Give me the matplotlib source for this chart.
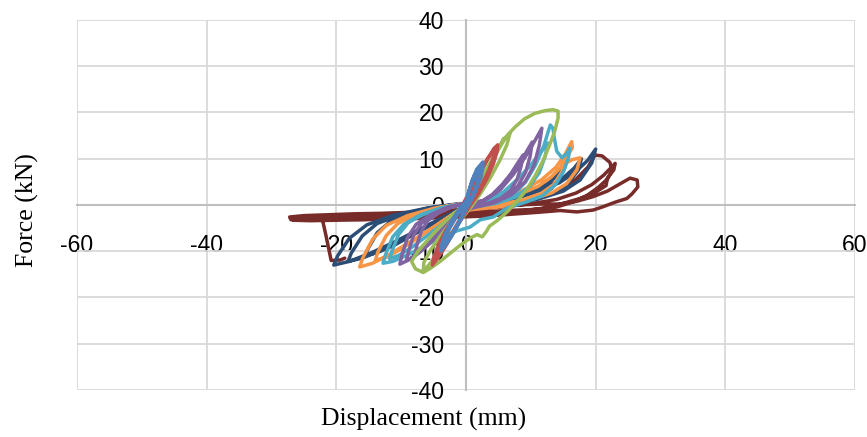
import matplotlib
matplotlib.use("Agg")
import matplotlib.pyplot as plt
from matplotlib import font_manager as fm
import numpy as np

# hysteresis loops, (displacement mm, force kN)
blue_pts = [(0, 0), (0.3, 2.2), (0.8, 4.4), (1.4, 6.2), (2.0, 7.4), (2.0, 6.6), (1.7, 4.8), (1.2, 2.6),
            (0.6, 0.6), (0, -0.8), (-0.7, -2.8), (-1.5, -4.8), (-2.4, -6.8), (-3.2, -8.4), (-3.1, -7.2),
            (-2.6, -5.0), (-1.8, -2.8), (-0.8, -0.6), (0, 0.6),
            (0.4, 2.6), (0.9, 5.2), (1.7, 7.8), (2.6, 9.3), (2.6, 8.2), (2.3, 6.0), (1.6, 3.4), (0.8, 1.0),
            (0, -0.8), (-0.8, -3.2), (-1.8, -5.8), (-2.9, -8.2), (-3.9, -10), (-3.8, -8.8), (-3.2, -6.2),
            (-2.2, -3.4), (-1, -0.8), (0, 0.8),
            (0.4, 2.8), (1, 5.4), (1.7, 7.6), (2.4, 8.6), (2.3, 7.4), (1.9, 5.2), (1.2, 2.6), (0.4, 0.4),
            (-0.5, -2), (-1.5, -4.8), (-2.6, -7.4), (-3.6, -9.4), (-3.4, -7.8), (-2.6, -5.2), (-1.5, -2.6),
            (-0.4, -0.2)]

red_pts = [(0, 0), (0.8, 2.8), (2, 6.4), (3.3, 9.8), (4.3, 12.2), (4.9, 13), (4.8, 11.6), (4.2, 8.8),
           (3.2, 5.6), (1.9, 2.4), (0.6, -0.2), (-0.6, -2.8), (-1.8, -5.6), (-3, -8.6), (-4.2, -11.2),
           (-5.2, -13), (-5, -11.4), (-4.2, -8.4), (-3, -5.2), (-1.7, -2.4), (-0.4, 0.4), (0.8, 3.4), (2, 6.8),
           (3.3, 10), (4.5, 12.2), (4.3, 10.6), (3.6, 7.8), (2.6, 4.8), (1.4, 2), (0.2, -0.4), (-1, -3.2),
           (-2.3, -6.4), (-3.6, -9.6), (-4.7, -12), (-4.5, -10.4), (-3.6, -7.4), (-2.4, -4.4), (-1.1, -1.6),
           (0, 0.4)]

green_pts = [(0, 0), (1.5, 3.6), (3, 7.4), (4.4, 10.8), (5.7, 13.8), (6.8, 15.6), (6.3, 13), (5.2, 9.6),
             (3.8, 6), (2.3, 2.6), (0.8, -0.4), (-0.8, -3.2), (-2.4, -6.4), (-4, -9.6), (-5.4, -12.4),
             (-6.6, -14.4), (-6.5, -12.4), (-5.4, -9.6), (-3.9, -6.6), (-2.3, -3.6), (-0.8, -1), (0.6, 1.6),
             (2.1, 5), (3.6, 8.6), (5, 12), (6.2, 14.8), (7.6, 16.9), (9, 18.6), (10.6, 19.8), (12.2, 20.4),
             (13.4, 20.6), (14.2, 20.3), (14.2, 18.8), (13.7, 16), (12.9, 13), (11.9, 9.6), (10.7, 6.4),
             (9.4, 3.4), (8, 1), (6.4, -1.4), (4.8, -3.4), (3.6, -4.6), (3.2, -5.6), (2.5, -6.9), (1.7, -6.4),
             (0.6, -7.2), (-0.8, -8.6), (-2.4, -10.4), (-4, -12.2), (-5.4, -13.6), (-6.6, -14.6), (-7.8, -13.8),
             (-8.4, -12.2), (-7.4, -10), (-5.8, -7.4), (-4, -4.6), (-2.2, -2.2), (-0.6, -0.4), (1, 2),
             (2.4, 5.4), (3.8, 9), (5, 12.2), (5.8, 14.4)]

purple_pts = [(0, 0), (2.2, 0.6), (4, 2.2), (5.5, 4.3), (6.9, 6.7), (7.9, 8.9), (8.8, 10.8), (8.5, 8.4),
              (7.9, 5.6), (6.9, 3.2), (5.3, 1.4), (3.3, 0.3), (1.1, -0.3), (-0.8, -1.2), (-2.7, -4.2),
              (-4.3, -6.4), (-5.6, -8.3), (-6.9, -9.8), (-7.8, -10.4), (-7.6, -8.8), (-6.9, -5.7), (-5.9, -3.4),
              (-4.3, -1.8), (-2.3, -0.5), (-0.4, 0.2),
              (2.6, 0.8), (4.6, 2.7), (6.3, 5.4), (8, 8.4), (9.2, 11.2), (10.2, 13.6), (9.9, 10.6), (9.2, 7.1),
              (8, 4.1), (6.1, 1.8), (3.9, 0.4), (1.2, -0.4), (-0.9, -1.4), (-3.2, -4.8), (-5.1, -7.4),
              (-6.6, -9.6), (-8.1, -11.3), (-9.2, -12), (-8.9, -10.2), (-8.1, -6.6), (-6.9, -4), (-5.1, -2),
              (-2.8, -0.6), (-0.5, 0.2),
              (2.9, 1), (5.3, 3.3), (7.3, 6.6), (9.1, 10.3), (10.5, 13.6), (11.7, 16.6), (11.3, 12.9),
              (10.5, 8.6), (9.1, 5), (7, 2.2), (4.4, 0.5), (1.4, -0.5), (-1, -1.5), (-3.6, -5.1), (-5.6, -7.9),
              (-7.3, -10.2), (-9, -12), (-10.2, -12.8), (-9.9, -10.9), (-9, -7), (-7.7, -4.2), (-5.6, -2.2),
              (-3.1, -0.6), (-0.5, 0.3)]

cyan_pts = [(0, 0), (3.2, 0.8), (5.7, 2.7), (7.8, 5.4), (9.8, 8.3), (11.3, 11), (12.6, 13.4), (12.2, 10.5),
            (11.3, 7), (9.8, 4), (7.6, 1.7), (4.8, 0.4), (1.5, -0.4), (-1.2, -1.4), (-4.1, -4.6), (-6.5, -7.2),
            (-8.5, -9.3), (-10.4, -10.9), (-11.8, -11.6), (-11.4, -9.9), (-10.4, -6.4), (-8.9, -3.8),
            (-6.5, -2), (-3.5, -0.6), (-0.6, 0.2),
            (2.4, 0.6), (4.8, 1.8), (5.6, 2.6), (6.3, 1.6), (7.6, 2.6), (9.2, 5), (10.7, 8.6), (12, 12.8),
            (13, 17.3), (13.4, 16.6), (13.6, 14.6), (14, 11.6), (14.8, 10.2), (15.6, 11.2), (16, 12.3),
            (15.8, 10.2), (15.1, 7.4), (13.8, 4.4), (11.8, 2), (9.2, 0.6), (6.4, -0.6), (4.2, -2.6),
            (2.2, -3.2), (0.6, -4.8), (-1.4, -5.6), (-3.8, -7), (-6.6, -9), (-9, -10.8), (-11.3, -12.2),
            (-12.8, -12.6), (-12.4, -10.7), (-11.3, -6.9), (-9.6, -4.2), (-7, -2.1), (-3.8, -0.6), (-0.6, 0.3)]

orange_pts = [(0, 0), (3.9, 0.6), (7.7, 2), (11.1, 4), (13.1, 6), (14.5, 8), (15.4, 10), (14.9, 7.5),
              (13.6, 4.5), (11.6, 2.5), (8.5, 1), (4.6, 0), (0.8, -0.4), (-1.4, -1.4), (-4.9, -4.8),
              (-7.7, -7.4), (-10.1, -9.6), (-12.3, -11.3), (-14, -12), (-13.6, -10.2), (-12.3, -6.6),
              (-10.5, -4), (-7.7, -2), (-4.2, -0.6), (-0.7, 0.2),
              (4.1, 0.8), (8.2, 2.7), (11.7, 5.5), (13.9, 8.2), (15.3, 11), (16.3, 13.7), (16.4, 12.4),
              (15.6, 10.4), (15, 8.8), (16.4, 9.8), (17.6, 10.2), (17.1, 7.6), (15.5, 4.6), (13.2, 2.6),
              (9.7, 1), (5.3, -0.4), (0.9, -1), (-1.6, -1.6), (-5.7, -5.4), (-9, -8.3), (-11.8, -10.7),
              (-14.4, -12.6), (-16.4, -13.4), (-15.9, -11.4), (-14.4, -7.4), (-12.3, -4.4), (-9, -2.3),
              (-4.9, -0.7), (-0.8, 0.3)]

navy_pts = [(0, 0), (3.8, 0.5), (7.5, 1.6), (10.8, 3.2), (12.8, 4.8), (14.1, 6.4), (15, 8), (14.6, 6),
            (13.2, 3.6), (11.3, 2), (8.3, 0.8), (4.5, 0), (0.8, -0.3), (-1.6, -1.3), (-5.5, -4.4), (-8.6, -6.8),
            (-11.2, -8.8), (-13.7, -10.3), (-15.6, -11), (-15.1, -9.4), (-13.7, -6), (-11.7, -3.6),
            (-8.6, -1.9), (-4.7, -0.6), (-0.8, 0.2),
            (4.5, 0.6), (8.9, 2), (12.8, 4), (15.1, 6), (16.7, 8), (17.8, 10), (17.3, 7.5), (15.7, 4.5),
            (13.4, 2.5), (9.8, 1), (5.3, 0), (0.9, -0.4), (-1.8, -1.5), (-6.4, -4.9), (-10, -7.6),
            (-13.1, -9.8), (-16, -11.5), (-18.2, -12.2), (-17.7, -10.4), (-16, -6.7), (-13.7, -4), (-10, -2.1),
            (-5.5, -0.6), (-0.9, 0.2),
            (5, 0.7), (10, 2.4), (14.4, 4.8), (17, 7.3), (18.8, 9.7), (20, 12.1), (19.4, 9.1), (17.6, 5.4),
            (15, 3), (11, 1.2), (6, 0), (1, -0.5), (-2, -1.6), (-7.1, -5.2), (-11.2, -8.1), (-14.7, -10.4),
            (-18, -12.2), (-20.4, -13), (-19.8, -11), (-18, -7.2), (-15.3, -4.3), (-11.2, -2.2), (-6.1, -0.7),
            (-1, 0.3)]

maroon_pts = [(0, 0), (4, 0.2), (8, 0.6), (11.6, 1.6), (14.6, 3.2), (17, 5.6), (18.8, 8.2), (19.9, 10.8),
              (21, 10.6), (22.2, 9.2), (22.5, 7.4), (21.8, 5.6), (20.4, 3.8), (18.6, 2), (16.4, 0.6),
              (13.6, -0.6), (10, -1), (6, -1.2), (2, -1.6), (-2, -2), (-6, -2.3), (-10, -2.5), (-14, -2.6),
              (-18, -2.8), (-22, -3), (-25, -3.1), (-27, -3.2), (-27.2, -2.6), (-25, -2.3), (-21, -2.1),
              (-17, -1.9), (-13, -1.8), (-9, -1.6), (-5, -1.4), (-1, -1), (3, -0.6), (7, -0.2), (10.6, 0.4),
              (14, 1.2), (17, 2.6), (19.4, 4.4), (21.2, 6.4), (22.6, 8.4), (23, 9), (22.8, 7.6), (21.8, 5.8),
              (21.6, 4.2), (19.8, 2.6), (17.6, 1.4), (14.6, 0.2), (11.4, -0.8), (8, -1.4), (4, -1.8), (0, -2.2),
              (-4, -2.6), (-8, -2.8), (-12, -3), (-16, -3.2), (-20, -3.3), (-24, -3.4), (-26.6, -3.3),
              (-26.8, -2.8), (-24, -2.6), (-20, -2.4), (-16, -2.3), (-12, -2.2), (-8, -2), (-4, -1.6),
              (0, -1.2), (4, -0.6), (8, 0), (11.6, 0.2), (14.5, 0.2), (17.1, 0.8), (19.6, 1.8), (21.8, 3),
              (23.8, 4.6), (25.3, 5.8), (26.4, 5.4), (26.5, 3.9), (25.6, 2.4), (24.8, 1.4), (23, 0.6),
              (21.1, -0.4), (19.6, -1.1), (17.1, -1.5), (14.5, -1.2), (11, -1.6), (7, -2), (3, -2.4),
              (-1, -2.6), (-5, -2.8), (-9, -3), (-13, -3.1), (-17, -3.1), (-20, -3), (-22.2, -2.8),
              (-21.6, -6.6), (-20.8, -12), (-19.4, -11.9), (-18.7, -11.5)]

series = [blue_pts, red_pts, green_pts, purple_pts, cyan_pts, orange_pts, navy_pts, maroon_pts]
colors = ['#4F81BD', '#C0504D', '#9BBB59', '#8064A2', '#4BACC6', '#F79646', '#2C4D75', '#772C2A']

x_ticks = [-60, -40, -20, 0, 20, 40, 60]
y_ticks = [-40, -30, -20, -10, 0, 10, 20, 30, 40]

# narrow sans for the tick numbers if it is there
try:
    fm.findfont('Liberation Sans Narrow', fallback_to_default=False)
    tick_font = 'Liberation Sans Narrow'
except ValueError:
    tick_font = 'Liberation Sans'

plt.rcParams['axes.unicode_minus'] = False

fig = plt.figure(figsize=(8.67, 4.37), dpi=100)
ax = fig.add_axes([0.0888, 0.1076, 0.8974, 0.8467])

# biggest loops first so the small ones sit on top
for pts, col in reversed(list(zip(series, colors))):
    xy = np.array(pts)
    ax.plot(xy[:, 0], xy[:, 1], color=col, lw=2.5, solid_joinstyle='round', solid_capstyle='round', zorder=3)

ax.set_xlim(-60, 60)
ax.set_ylim(-40, 40)
ax.set_xticks(x_ticks)
ax.set_yticks(y_ticks)
ax.grid(True, color='#d9d9d9', lw=1.3, zorder=0)
ax.set_axisbelow(True)

for s in ['top', 'right']:
    ax.spines[s].set_visible(False)
ax.spines['left'].set_position(('data', 0))
ax.spines['bottom'].set_position(('data', 0))
for s in ['left', 'bottom']:
    ax.spines[s].set_color('#bfbfbf')
    ax.spines[s].set_linewidth(1.5)
    ax.spines[s].set_zorder(1)

ax.tick_params(axis='x', length=0, pad=21)
ax.tick_params(axis='y', length=0, pad=16)
for lab in ax.get_xticklabels() + ax.get_yticklabels():
    lab.set_fontfamily(tick_font)
    lab.set_fontsize(16.5)
    lab.set_clip_on(False)

fig.text(0.488, 0.04, 'Displacement (mm)', family='Liberation Serif', fontsize=18.5, ha='center', va='center')
fig.text(0.032, 0.52, 'Force (kN)', family='Liberation Serif', fontsize=18.5, ha='center', va='center',
         rotation=90)

fig.savefig('out.png', dpi=100)
